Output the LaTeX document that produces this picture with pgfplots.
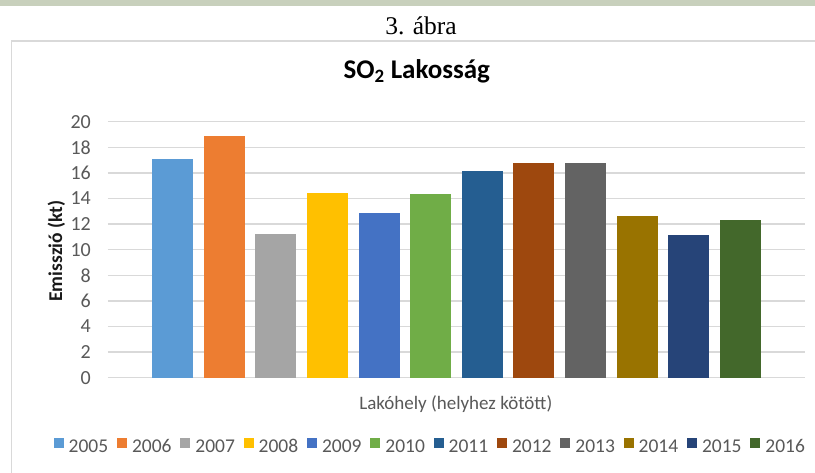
\documentclass[border=0pt]{standalone}
\usepackage{fontspec}
\setmainfont{Carlito}
\newfontfamily\timesfont{Liberation Serif}
\usepackage{pgfplots}
\pgfplotsset{compat=1.18}
\definecolor{c05}{HTML}{5B9BD5}
\definecolor{c06}{HTML}{ED7D31}
\definecolor{c07}{HTML}{A5A5A5}
\definecolor{c08}{HTML}{FFC000}
\definecolor{c09}{HTML}{4472C4}
\definecolor{c10}{HTML}{70AD47}
\definecolor{c11}{HTML}{255E91}
\definecolor{c12}{HTML}{9E480E}
\definecolor{c13}{HTML}{636363}
\definecolor{c14}{HTML}{997300}
\definecolor{c15}{HTML}{264478}
\definecolor{c16}{HTML}{43682B}
\definecolor{txtgray}{HTML}{595959}
\definecolor{gridgray}{HTML}{D9D9D9}
\definecolor{strip}{RGB}{200,208,188}
\begin{document}
\begin{tikzpicture}
\useasboundingbox (0pt,0pt) rectangle (815pt,472pt);
\clip (0pt,0pt) rectangle (815pt,472pt);
\fill[white] (0pt,0pt) rectangle (815pt,472pt);
\fill[strip] (0pt,466pt) rectangle (815pt,472pt);
\draw[gridgray, line width=1.5pt] (11.5pt,-10pt) -- (11.5pt,431pt) -- (830pt,431pt);
\node[anchor=base, font=\timesfont\fontsize{25.5}{30}\selectfont] at (421pt,437.3pt) {3. ábra};
\begin{axis}[
  at={(108pt,94.3pt)}, anchor=south west,
  scale only axis, width=697pt, height=256pt,
  xmin=-1.25, xmax=12.25, ymin=0, ymax=20,
  ytick={0,2,...,20}, xtick=\empty,
  ymajorgrids, grid style={gridgray, line width=1.4pt},
  axis line style={draw=none},
  major tick length=0pt,
  /pgf/number format/assume math mode=true,
  yticklabel style={font=\fontsize{20}{23}\selectfont, text=txtgray, inner sep=0pt, xshift=-17pt},
  ylabel={Emisszió (kt)},
  ylabel style={font=\bfseries\fontsize{19.5}{22}\selectfont, text=black!90, at={(axis description cs:-0.066,0.495)}, anchor=base},
  xlabel={Lakóhely (helyhez kötött)},
  xlabel style={font=\fontsize{19}{22}\selectfont, text=txtgray, at={(axis description cs:0.499,-0.126)}, anchor=base},
  title={SO\textsubscript{2} Lakosság},
  title style={font=\bfseries\fontsize{27}{30}\selectfont, text=black, at={(axis description cs:0.443,1.1434)}, anchor=base},
  ybar, bar width=41pt, bar shift=0pt,
  legend columns=12,
  legend image code/.code={\fill[#1,draw=none] (0pt,-1pt) rectangle (10pt,9pt);},
  legend style={draw=none, fill=none, font=\fontsize{19.5}{22}\selectfont, text=txtgray,
    at={(axis description cs:0.461,-0.267)}, anchor=center, inner sep=0pt,
    nodes={inner sep=0pt},
    /tikz/every odd column/.append style={column sep=5pt},
    /tikz/every even column/.append style={column sep=8.8pt}},
]
\addplot[fill=c05, draw=none] coordinates {(0,17.1)};
\addplot[fill=c06, draw=none] coordinates {(1,18.86)};
\addplot[fill=c07, draw=none] coordinates {(2,11.26)};
\addplot[fill=c08, draw=none] coordinates {(3,14.42)};
\addplot[fill=c09, draw=none] coordinates {(4,12.84)};
\addplot[fill=c10, draw=none] coordinates {(5,14.37)};
\addplot[fill=c11, draw=none] coordinates {(6,16.16)};
\addplot[fill=c12, draw=none] coordinates {(7,16.76)};
\addplot[fill=c13, draw=none] coordinates {(8,16.76)};
\addplot[fill=c14, draw=none] coordinates {(9,12.63)};
\addplot[fill=c15, draw=none] coordinates {(10,11.18)};
\addplot[fill=c16, draw=none] coordinates {(11,12.3)};
\legend{2005,2006,2007,2008,2009,2010,2011,2012,2013,2014,2015,2016}
\end{axis}
\end{tikzpicture}
\end{document}
